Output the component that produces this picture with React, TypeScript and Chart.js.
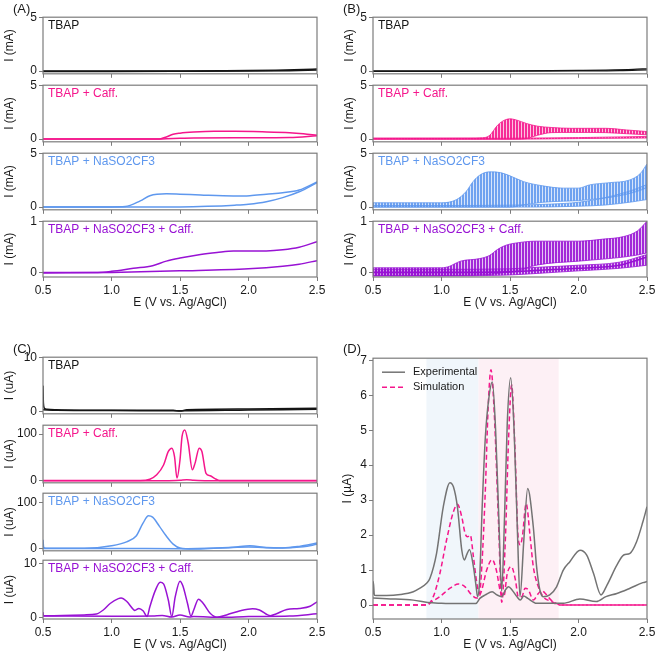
import React, { useEffect, useRef } from 'react';
import { Chart, registerables } from 'chart.js';

Chart.register(...registerables);

const FONT = "'Liberation Sans', Arial, Helvetica, sans-serif";
const FS = 12;
Chart.defaults.font.family = FONT;
Chart.defaults.font.size = FS;
Chart.defaults.color = '#1a1a1a';

const TXT = '#1a1a1a';
const AXIS = '#7c7c7c';
const BLACK = '#151515';
const PINK = '#f5168c';
const BLUE = '#5f98ee';
const PURPLE = '#9812d4';
const GRAY = '#737373';

// ---------- shared ticks ----------
const X_TICKS = [0.5, 1.0, 1.5, 2.0, 2.5];
const Y_TICKS_MA5 = [0, 5];
const Y_TICKS_MA1 = [0, 1];
const Y_TICKS_UA10 = [0, 10];
const Y_TICKS_UA100 = [0, 100];
const Y_TICKS_D = [0, 1, 2, 3, 4, 5, 6, 7];

// ---------- Panel A ----------
const A1_FWD_E = [0.5, 1.0, 1.5, 1.8, 2.0, 2.2, 2.4, 2.5];
const A1_FWD_I = [0.0, 0.0, 0.01, 0.03, 0.05, 0.09, 0.15, 0.2];
const A1_REV_E = [0.5, 1.0, 1.5, 2.0, 2.3, 2.5];
const A1_REV_I = [-0.03, -0.03, -0.02, 0.0, 0.04, 0.1];

const A2_FWD_E = [0.5, 1.2, 1.35, 1.4, 1.45, 1.5, 1.6, 1.75, 1.9, 2.1, 2.3, 2.4, 2.5];
const A2_FWD_I = [0.0, 0.0, 0.02, 0.2, 0.45, 0.55, 0.65, 0.72, 0.72, 0.68, 0.6, 0.5, 0.35];
const A2_REV_E = [0.5, 1.3, 1.45, 1.6, 2.0, 2.3, 2.5];
const A2_REV_I = [0.0, 0.0, 0.05, 0.1, 0.12, 0.15, 0.3];

const A3_FWD_E = [0.5, 1.0, 1.1, 1.21, 1.28, 1.4, 1.5, 1.65, 1.89, 2.01, 2.13, 2.25, 2.37, 2.5];
const A3_FWD_I = [0.02, 0.02, 0.05, 0.58, 1.06, 1.24, 1.2, 1.12, 1.03, 1.06, 1.2, 1.33, 1.58, 2.33];
const A3_REV_E = [0.5, 1.5, 1.7, 1.9, 2.0, 2.13, 2.25, 2.37, 2.5];
const A3_REV_I = [0.0, 0.02, 0.07, 0.18, 0.27, 0.5, 0.88, 1.42, 2.27];

const A4_FWD_E = [0.5, 0.9, 1.0, 1.16, 1.3, 1.4, 1.5, 1.65, 1.77, 1.89, 2.0, 2.13, 2.25, 2.37, 2.5];
const A4_FWD_I = [0.0, 0.0, 0.02, 0.08, 0.13, 0.22, 0.28, 0.35, 0.39, 0.42, 0.42, 0.42, 0.44, 0.49, 0.6];
const A4_REV_E = [0.5, 1.0, 1.5, 2.0, 2.25, 2.37, 2.5];
const A4_REV_I = [-0.01, 0.0, 0.03, 0.07, 0.12, 0.16, 0.23];

// ---------- Panel B ----------
const B1_FWD_E = [0.5, 1.0, 1.5, 1.8, 2.0, 2.2, 2.4, 2.5];
const B1_FWD_I = [0.02, 0.02, 0.03, 0.05, 0.07, 0.1, 0.16, 0.22];
const B1_REV_E = [0.5, 1.0, 1.5, 2.0, 2.3, 2.5];
const B1_REV_I = [-0.02, -0.02, -0.01, 0.02, 0.05, 0.12];

const B2_F_E = [0.5, 1.2, 1.3, 1.35, 1.41, 1.46, 1.5, 1.55, 1.62, 1.7, 1.8, 1.95, 2.2, 2.35, 2.5];
const B2_F_HI = [0.1, 0.1, 0.12, 0.33, 1.3, 1.76, 1.88, 1.76, 1.45, 1.2, 1.08, 1.0, 1.0, 0.85, 0.7];
const B2_F_LO = [0.0, 0.0, 0.0, 0.0, 0.0, 0.0, 0.0, 0.0, 0.05, 0.35, 0.6, 0.62, 0.6, 0.5, 0.4];
const B2_R_E = [0.5, 1.5, 2.0, 2.5];
const B2_R_HI = [0.06, 0.08, 0.14, 0.25];
const B2_R_LO = [-0.02, -0.01, 0.05, 0.1];

const B3_F_E = [0.5, 1.0, 1.11, 1.18, 1.23, 1.28, 1.35, 1.43, 1.5, 1.6, 1.74, 1.89, 2.0, 2.08, 2.23, 2.37, 2.45, 2.5];
const B3_F_HI = [0.4, 0.4, 0.7, 1.45, 2.36, 2.97, 3.27, 3.2, 2.9, 2.36, 1.97, 1.76, 1.76, 2.06, 2.27, 2.5, 3.1, 4.0];
const B3_F_LO = [0.0, 0.0, 0.0, 0.0, 0.0, 0.0, 0.0, 0.0, 0.0, 0.2, 0.45, 0.55, 0.6, 0.7, 0.9, 1.25, 1.55, 1.8];
const B3_R_E = [0.5, 1.0, 1.5, 1.8, 2.0, 2.2, 2.4, 2.5];
const B3_R_HI = [0.15, 0.15, 0.18, 0.28, 0.45, 0.9, 1.6, 2.1];
const B3_R_LO = [0.0, 0.0, 0.0, 0.02, 0.08, 0.2, 0.5, 0.7];

const B4_F_E = [0.5, 1.0, 1.06, 1.09, 1.14, 1.28, 1.35, 1.41, 1.47, 1.56, 1.69, 2.0, 2.18, 2.33, 2.43, 2.5];
const B4_F_HI = [0.09, 0.09, 0.12, 0.16, 0.22, 0.27, 0.33, 0.45, 0.53, 0.58, 0.61, 0.61, 0.65, 0.7, 0.81, 1.0];
const B4_F_LO = [-0.06, -0.06, -0.06, -0.06, -0.06, -0.05, -0.04, -0.02, 0.0, 0.03, 0.14, 0.22, 0.26, 0.3, 0.34, 0.38];
const B4_R_E = [0.5, 1.0, 1.5, 1.7, 2.0, 2.3, 2.5];
const B4_R_HI = [0.06, 0.06, 0.07, 0.1, 0.14, 0.2, 0.35];
const B4_R_LO = [-0.07, -0.07, -0.05, -0.02, 0.03, 0.08, 0.14];
const B4_R_MID = [0.0, 0.0, 0.01, 0.04, 0.08, 0.14, 0.3];

// ---------- Panel C ----------
const C1_L1_E = [0.5, 0.503, 0.51, 0.53, 0.6, 1.0, 1.45, 1.5, 1.55, 2.0, 2.5];
const C1_L1_I = [4.8, 1.5, 0.6, 0.4, 0.3, 0.2, 0.2, 0.05, 0.3, 0.45, 0.6];
const C1_L2_E = [0.5, 0.6, 1.0, 1.5, 2.0, 2.5];
const C1_L2_I = [0.3, 0.2, 0.15, 0.1, 0.25, 0.4];

const C2_L1_E = [0.5, 1.21, 1.28, 1.33, 1.38, 1.415, 1.44, 1.46, 1.478, 1.5, 1.515, 1.535, 1.56, 1.59, 1.61, 1.64, 1.66, 1.69, 1.72, 1.755, 1.79, 2.5];
const C2_L1_I = [0.8, 0.7, 3.6, 13, 34, 63, 70, 52, 6, 45, 95, 109, 81, 24, 38, 70, 63, 16, 11, 5, 0.7, 0.8];
const C2_L2_E = [0.5, 1.4, 1.5, 1.55, 1.6, 1.7, 2.5];
const C2_L2_I = [0.5, 0.5, 1.5, 2.5, 1.5, 0.5, 0.5];

const C3_L1_E = [0.5, 0.505, 0.52, 0.8, 1.0, 1.11, 1.18, 1.23, 1.27, 1.3, 1.35, 1.4, 1.45, 1.5, 1.6, 1.77, 1.89, 2.01, 2.13, 2.25, 2.37, 2.5];
const C3_L1_I = [20, 3, 1.4, 1.4, 7, 15.5, 28, 56, 72, 69, 49, 28, 10.6, 2, 0, 2, 3.5, 7, 3, 2, 5.6, 12.7];
const C3_L2_E = [0.5, 1.0, 1.5, 1.8, 2.0, 2.2, 2.4, 2.5];
const C3_L2_I = [1, 1, 0.5, 2, 4, 2, 5, 10];

const C4_L1_E = [0.5, 0.503, 0.52, 0.8, 0.89, 0.94, 0.99, 1.05, 1.07, 1.11, 1.16, 1.17, 1.2, 1.23, 1.26, 1.28, 1.32, 1.355, 1.38, 1.415, 1.44, 1.465, 1.5, 1.52, 1.555, 1.58, 1.6, 1.635, 1.67, 1.72, 1.77, 1.84, 1.94, 2.03, 2.08, 2.16, 2.2, 2.28, 2.37, 2.45, 2.5];
const C4_L1_I = [1.0, 0.4, 0.36, 0.5, 0.67, 1.4, 2.6, 3.5, 3.6, 3.0, 1.5, 1.33, 1.7, 1.27, 0.2, 2.0, 5.0, 6.5, 6.2, 3.2, 0.2, 3.8, 6.7, 5.9, 2.6, 0.3, 1.4, 3.4, 2.6, 0.8, 0.06, 0.5, 1.27, 1.64, 1.4, 0.36, 0.67, 1.5, 1.7, 2.1, 2.9];
const C4_L2_E = [0.5, 1.0, 1.3, 1.37, 1.44, 1.5, 1.57, 1.6, 1.8, 2.0, 2.3, 2.5];
const C4_L2_I = [0.3, 0.25, 0.3, 0.4, 0.1, 0.5, 0.1, 0.2, 0.05, 0.2, 0.3, 0.7];

// ---------- Panel D ----------
const D_SHADE_BLUE = [0.89, 1.27];
const D_SHADE_PINK = [1.27, 1.855];

const D_EXP1_E = [0.5, 0.502, 0.51, 0.6, 0.7, 0.794, 0.843, 0.891, 0.915, 0.964, 1.013, 1.062, 1.087, 1.116, 1.148, 1.167, 1.185, 1.204, 1.233, 1.253, 1.263, 1.277, 1.297, 1.32, 1.345, 1.371, 1.395, 1.42, 1.439, 1.46, 1.48, 1.505, 1.53, 1.555, 1.573, 1.6, 1.629, 1.67, 1.694, 1.718, 1.742, 1.79, 1.84, 1.889, 1.937, 2.011, 2.06, 2.11, 2.164, 2.208, 2.28, 2.33, 2.376, 2.424, 2.47, 2.5];
const D_EXP1_I = [0.3, 0.67, 0.28, 0.27, 0.3, 0.38, 0.48, 0.62, 0.76, 1.48, 2.81, 3.5, 3.38, 2.81, 1.57, 1.29, 1.45, 1.59, 1.1, 0.52, 0.24, 0.62, 2.81, 4.8, 5.9, 6.38, 5.0, 2.3, 0.4, 2.5, 5.2, 6.5, 5.0, 2.0, 0.24, 1.8, 3.33, 2.24, 1.1, 0.43, 0.24, 0.29, 0.52, 1.0, 1.24, 1.57, 1.43, 0.9, 0.29, 0.57, 1.14, 1.43, 1.48, 1.81, 2.38, 2.81];
const D_EXP2_E = [0.5, 0.6, 0.794, 0.9, 1.0, 1.1, 1.25, 1.28, 1.32, 1.37, 1.404, 1.44, 1.466, 1.49, 1.515, 1.55, 1.575, 1.6, 1.63, 1.694, 1.84, 1.89, 2.01, 2.13, 2.2, 2.28, 2.376, 2.47, 2.5];
const D_EXP2_I = [0.2, 0.18, 0.14, 0.07, 0.05, 0.04, 0.04, 0.19, 0.29, 0.38, 0.29, 0.24, 0.43, 0.52, 0.43, 0.24, 0.14, 0.26, 0.19, 0.05, 0.05, 0.05, 0.17, 0.1, 0.24, 0.33, 0.48, 0.64, 0.67];
const D_SIM1_E = [0.5, 0.89, 0.94, 0.988, 1.037, 1.087, 1.116, 1.148, 1.172, 1.19, 1.21, 1.233, 1.258, 1.277, 1.294, 1.32, 1.34, 1.361, 1.385, 1.416, 1.44, 1.466, 1.49, 1.512, 1.535, 1.56, 1.575, 1.59, 1.618, 1.647, 1.67, 1.707, 1.742, 1.803, 1.86, 2.5];
const D_SIM1_I = [0, 0, 0.24, 0.9, 1.86, 2.67, 2.88, 2.52, 2.05, 1.95, 2.0, 1.38, 0.62, 0.33, 1.1, 3.29, 5.6, 6.73, 5.5, 2.38, 0.08, 1.86, 4.8, 6.29, 4.6, 1.9, 1.72, 1.95, 2.9, 1.95, 1.1, 0.52, 0.24, 0.1, 0.0, 0.0];
const D_SIM2_E = [0.5, 0.9, 0.915, 0.988, 1.062, 1.124, 1.172, 1.22, 1.258, 1.29, 1.33, 1.37, 1.4, 1.43, 1.455, 1.48, 1.51, 1.54, 1.56, 1.586, 1.61, 1.635, 1.67, 1.707, 1.73, 1.767, 1.8, 1.85, 1.9, 2.5];
const D_SIM2_I = [0, 0, 0.05, 0.24, 0.48, 0.6, 0.52, 0.29, 0.2, 0.38, 1.0, 1.3, 1.0, 0.38, 0.24, 0.9, 1.1, 0.71, 0.24, 0.24, 0.48, 0.43, 0.14, 0.33, 0.41, 0.29, 0.14, 0.03, 0, 0];

// ---------- types ----------
type LineSpec = { E: number[]; I: number[]; color: string; width?: number; dash?: number[]; label?: string };
type BandSpec = { E: number[]; hi: number[]; lo: number[]; color: string };
type SubSpec = {
  left: number; top: number; w: number; h: number;
  yMin: number; yMax: number; yTicks: number[];
  yTitle: string; yTitlePad: number;
  showX: boolean;
  text?: string; textColor?: string;
  lines?: LineSpec[]; bands?: BandSpec[];
  shades?: { range: number[]; color: string }[];
  legend?: boolean;
};

const Y_W = 43;
const PAD_T = 9;
const PAD_R = 11;

function hatch(ctx: CanvasRenderingContext2D, color: string): CanvasPattern | string {
  const c = document.createElement('canvas');
  c.width = 3; c.height = 4;
  const g = c.getContext('2d');
  if (!g) return color;
  g.fillStyle = color;
  g.globalAlpha = 0.9; g.fillRect(0, 0, 2, 4);
  g.globalAlpha = 0.25; g.fillRect(2, 0, 1, 4);
  return ctx.createPattern(c, 'repeat') ?? color;
}

function pts(E: number[], I: number[]) {
  return E.map((e, i) => ({ x: e, y: I[i] }));
}

function Sub({ s }: { s: SubSpec }) {
  const ref = useRef<HTMLCanvasElement>(null);
  const X_H = s.showX ? 33 : 8;
  const cw = Y_W + s.w + PAD_R;
  const ch = PAD_T + s.h + X_H;
  useEffect(() => {
    const cv = ref.current;
    if (!cv) return;
    const ctx = cv.getContext('2d');
    if (!ctx) return;
    const datasets: any[] = [];
    (s.bands || []).forEach((b) => {
      datasets.push({ data: pts(b.E, b.hi), borderColor: b.color, borderWidth: 0.8, backgroundColor: hatch(ctx, b.color), fill: '+1', pointRadius: 0, cubicInterpolationMode: 'monotone' });
      datasets.push({ data: pts(b.E, b.lo), borderColor: b.color, borderWidth: 0.8, fill: false, pointRadius: 0, cubicInterpolationMode: 'monotone' });
    });
    (s.lines || []).forEach((l) => {
      datasets.push({ label: l.label, data: pts(l.E, l.I), borderColor: l.color, borderWidth: l.width ?? 1.5, borderDash: l.dash || [], fill: false, pointRadius: 0, cubicInterpolationMode: 'monotone' });
    });
    const deco = {
      id: 'deco',
      beforeDatasetsDraw(chart: any) {
        const { ctx: c, chartArea: a, scales } = chart;
        (s.shades || []).forEach((sh) => {
          const x0 = scales.x.getPixelForValue(sh.range[0]);
          const x1 = scales.x.getPixelForValue(sh.range[1]);
          c.save();
          c.fillStyle = sh.color;
          c.fillRect(x0, a.top, x1 - x0, a.bottom - a.top);
          c.restore();
        });
      },
      afterDraw(chart: any) {
        const { ctx: c, chartArea: a } = chart;
        c.save();
        c.strokeStyle = AXIS;
        c.lineWidth = 1.2;
        c.strokeRect(a.left, a.top, a.right - a.left, a.bottom - a.top);
        if (s.text) {
          c.font = `${FS}px ${FONT}`;
          c.fillStyle = s.textColor || TXT;
          c.textBaseline = 'middle';
          c.textAlign = 'left';
          c.fillText(s.text, a.left + 5, a.top + 8.5);
        }
        if (s.legend) {
          const items = (s.lines || []).filter((l, i, arr) => l.label && arr.findIndex((m) => m.label === l.label) === i);
          items.forEach((it, k) => {
            const y = a.top + 14 + k * 15;
            c.strokeStyle = it.color;
            c.lineWidth = it.width ?? 1.5;
            c.setLineDash(it.dash || []);
            c.beginPath();
            c.moveTo(a.left + 9, y);
            c.lineTo(a.left + 32, y);
            c.stroke();
            c.setLineDash([]);
            c.font = `11px ${FONT}`;
            c.fillStyle = TXT;
            c.textBaseline = 'middle';
            c.fillText(it.label as string, a.left + 40, y);
          });
        }
        c.restore();
      },
    };
    const chart = new Chart(ctx, {
      type: 'line',
      data: { datasets },
      options: {
        responsive: false,
        maintainAspectRatio: false,
        animation: false,
        events: [],
        layout: { padding: { top: PAD_T, right: PAD_R, left: 0, bottom: 0 } },
        plugins: { legend: { display: false }, tooltip: { enabled: false } },
        scales: {
          x: {
            type: 'linear', min: 0.5, max: 2.5,
            afterBuildTicks: (sc: any) => { sc.ticks = X_TICKS.map((v) => ({ value: v })); },
            afterFit: (sc: any) => { sc.height = X_H; },
            grid: { display: true, drawOnChartArea: false, drawTicks: true, tickLength: 4, color: AXIS, lineWidth: 1 },
            border: { display: false },
            ticks: { display: s.showX, padding: 2, color: TXT, maxRotation: 0, autoSkip: false, font: { size: FS }, callback: (v: any) => Number(v).toFixed(1) },
            title: { display: s.showX, text: 'E (V vs. Ag/AgCl)', color: TXT, font: { size: FS, lineHeight: 1.2 }, padding: { top: 0, bottom: 0 } },
          },
          y: {
            type: 'linear', min: s.yMin, max: s.yMax,
            afterBuildTicks: (sc: any) => { sc.ticks = s.yTicks.map((v) => ({ value: v })); },
            afterFit: (sc: any) => { sc.width = Y_W; },
            grid: { display: true, drawOnChartArea: false, drawTicks: true, tickLength: 4, color: AXIS, lineWidth: 1 },
            border: { display: false },
            ticks: { padding: 2, color: TXT, autoSkip: false, font: { size: FS }, callback: (v: any) => String(v) },
            title: { display: true, text: s.yTitle, color: TXT, font: { size: FS, lineHeight: 1.2 }, padding: { top: s.yTitlePad, bottom: 0 } },
          },
        },
      } as any,
      plugins: [deco],
    });
    return () => chart.destroy();
  }, []);
  return (
    <canvas
      ref={ref}
      width={cw}
      height={ch}
      style={{ position: 'absolute', left: s.left - Y_W, top: s.top - PAD_T, width: cw, height: ch }}
    />
  );
}

const PW = 274;
const LX = 43;
const RX = 373;
const AB_ROWS = [[17, 58], [85, 58], [153, 58], [221, 56]];
const C_ROWS = [[357, 58], [425, 59], [493, 59], [560, 59]];
const PAD_L_TITLE = 2.8;
const PAD_R_TITLE = 12.8;
const PAD_D_TITLE = 10.8;

const L = (E: number[], I: number[], color: string, extra: Partial<LineSpec> = {}): LineSpec => ({ E, I, color, ...extra });

const SUBS: SubSpec[] = [
  // Panel A
  { left: LX, top: AB_ROWS[0][0], w: PW, h: AB_ROWS[0][1], yMin: -0.25, yMax: 5, yTicks: Y_TICKS_MA5, yTitle: 'I (mA)', yTitlePad: PAD_L_TITLE, showX: false, text: 'TBAP', textColor: BLACK,
    lines: [L(A1_REV_E, A1_REV_I, BLACK), L(A1_FWD_E, A1_FWD_I, BLACK)] },
  { left: LX, top: AB_ROWS[1][0], w: PW, h: AB_ROWS[1][1], yMin: -0.25, yMax: 5, yTicks: Y_TICKS_MA5, yTitle: 'I (mA)', yTitlePad: PAD_L_TITLE, showX: false, text: 'TBAP + Caff.', textColor: PINK,
    lines: [L(A2_REV_E, A2_REV_I, PINK), L(A2_FWD_E, A2_FWD_I, PINK)] },
  { left: LX, top: AB_ROWS[2][0], w: PW, h: AB_ROWS[2][1], yMin: -0.25, yMax: 5, yTicks: Y_TICKS_MA5, yTitle: 'I (mA)', yTitlePad: PAD_L_TITLE, showX: false, text: 'TBAP + NaSO2CF3', textColor: BLUE,
    lines: [L(A3_REV_E, A3_REV_I, BLUE), L(A3_FWD_E, A3_FWD_I, BLUE)] },
  { left: LX, top: AB_ROWS[3][0], w: PW, h: AB_ROWS[3][1], yMin: -0.09, yMax: 1, yTicks: Y_TICKS_MA1, yTitle: 'I (mA)', yTitlePad: PAD_L_TITLE, showX: true, text: 'TBAP + NaSO2CF3 + Caff.', textColor: PURPLE,
    lines: [L(A4_REV_E, A4_REV_I, PURPLE), L(A4_FWD_E, A4_FWD_I, PURPLE)] },
  // Panel B
  { left: RX, top: AB_ROWS[0][0], w: PW, h: AB_ROWS[0][1], yMin: -0.25, yMax: 5, yTicks: Y_TICKS_MA5, yTitle: 'I (mA)', yTitlePad: PAD_R_TITLE, showX: false, text: 'TBAP', textColor: BLACK,
    lines: [L(B1_REV_E, B1_REV_I, BLACK, { width: 1.2 }), L(B1_FWD_E, B1_FWD_I, BLACK, { width: 1.2 })] },
  { left: RX, top: AB_ROWS[1][0], w: PW, h: AB_ROWS[1][1], yMin: -0.25, yMax: 5, yTicks: Y_TICKS_MA5, yTitle: 'I (mA)', yTitlePad: PAD_R_TITLE, showX: false, text: 'TBAP + Caff.', textColor: PINK,
    bands: [{ E: B2_R_E, hi: B2_R_HI, lo: B2_R_LO, color: PINK }, { E: B2_F_E, hi: B2_F_HI, lo: B2_F_LO, color: PINK }] },
  { left: RX, top: AB_ROWS[2][0], w: PW, h: AB_ROWS[2][1], yMin: -0.25, yMax: 5, yTicks: Y_TICKS_MA5, yTitle: 'I (mA)', yTitlePad: PAD_R_TITLE, showX: false, text: 'TBAP + NaSO2CF3', textColor: BLUE,
    bands: [{ E: B3_R_E, hi: B3_R_HI, lo: B3_R_LO, color: BLUE }, { E: B3_F_E, hi: B3_F_HI, lo: B3_F_LO, color: BLUE }] },
  { left: RX, top: AB_ROWS[3][0], w: PW, h: AB_ROWS[3][1], yMin: -0.09, yMax: 1, yTicks: Y_TICKS_MA1, yTitle: 'I (mA)', yTitlePad: PAD_R_TITLE, showX: true, text: 'TBAP + NaSO2CF3 + Caff.', textColor: PURPLE,
    bands: [{ E: B4_R_E, hi: B4_R_HI, lo: B4_R_LO, color: PURPLE }, { E: B4_F_E, hi: B4_F_HI, lo: B4_F_LO, color: PURPLE }],
    lines: [L(B4_R_E, B4_R_MID, PURPLE, { width: 1.6 })] },
  // Panel C
  { left: LX, top: C_ROWS[0][0], w: PW, h: C_ROWS[0][1], yMin: -0.45, yMax: 10.1, yTicks: Y_TICKS_UA10, yTitle: 'I (uA)', yTitlePad: PAD_L_TITLE, showX: false, text: 'TBAP', textColor: BLACK,
    lines: [L(C1_L2_E, C1_L2_I, BLACK), L(C1_L1_E, C1_L1_I, BLACK)] },
  { left: LX, top: C_ROWS[1][0], w: PW, h: C_ROWS[1][1], yMin: -4, yMax: 119, yTicks: Y_TICKS_UA100, yTitle: 'I (uA)', yTitlePad: PAD_L_TITLE, showX: false, text: 'TBAP + Caff.', textColor: PINK,
    lines: [L(C2_L2_E, C2_L2_I, PINK), L(C2_L1_E, C2_L1_I, PINK)] },
  { left: LX, top: C_ROWS[2][0], w: PW, h: C_ROWS[2][1], yMin: -4, yMax: 121, yTicks: Y_TICKS_UA100, yTitle: 'I (uA)', yTitlePad: PAD_L_TITLE, showX: false, text: 'TBAP + NaSO2CF3', textColor: BLUE,
    lines: [L(C3_L2_E, C3_L2_I, BLUE), L(C3_L1_E, C3_L1_I, BLUE)] },
  { left: LX, top: C_ROWS[3][0], w: PW, h: C_ROWS[3][1], yMin: -0.25, yMax: 10.55, yTicks: Y_TICKS_UA10, yTitle: 'I (uA)', yTitlePad: PAD_L_TITLE, showX: true, text: 'TBAP + NaSO2CF3 + Caff.', textColor: PURPLE,
    lines: [L(C4_L2_E, C4_L2_I, PURPLE), L(C4_L1_E, C4_L1_I, PURPLE)] },
  // Panel D
  { left: RX, top: 358, w: PW, h: 261, yMin: -0.4, yMax: 7.06, yTicks: Y_TICKS_D, yTitle: 'I (µA)', yTitlePad: PAD_D_TITLE, showX: true, legend: true,
    shades: [{ range: D_SHADE_BLUE, color: '#f0f6fb' }, { range: D_SHADE_PINK, color: '#fdf0f5' }],
    lines: [
      L(D_EXP1_E, D_EXP1_I, GRAY, { label: 'Experimental', width: 1.5 }),
      L(D_EXP2_E, D_EXP2_I, GRAY, { label: 'Experimental', width: 1.5 }),
      L(D_SIM1_E, D_SIM1_I, PINK, { label: 'Simulation', width: 1.5, dash: [5, 3] }),
      L(D_SIM2_E, D_SIM2_I, PINK, { label: 'Simulation', width: 1.5, dash: [5, 3] }),
    ] },
];

const PANEL_LABELS = [
  { t: '(A)', x: 13, y: 1 },
  { t: '(B)', x: 343, y: 1 },
  { t: '(C)', x: 13, y: 341 },
  { t: '(D)', x: 343, y: 341 },
];

export default function App() {
  return (
    <div style={{ position: 'absolute', left: 0, top: 0, width: 658, height: 653, background: '#fff', overflow: 'hidden', fontFamily: FONT }}>
      {SUBS.map((s, i) => <Sub key={i} s={s} />)}
      {PANEL_LABELS.map((p) => (
        <div key={p.t} style={{ position: 'absolute', left: p.x, top: p.y, fontSize: 13, lineHeight: '15px', color: TXT }}>{p.t}</div>
      ))}
    </div>
  );
}
